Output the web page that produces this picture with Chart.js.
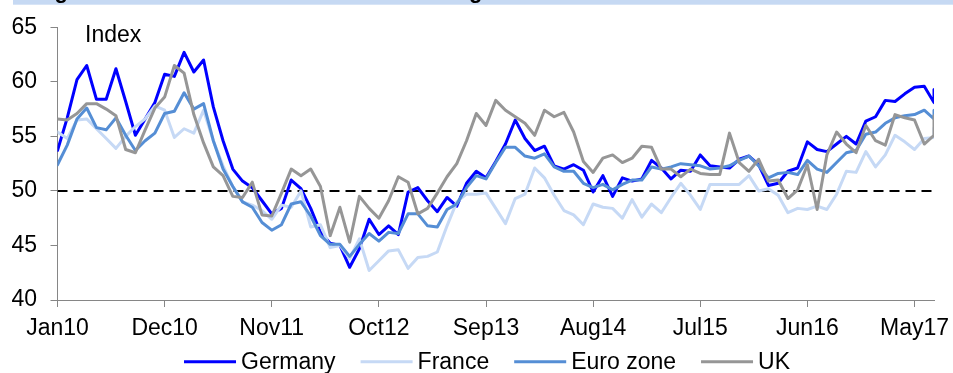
<!DOCTYPE html>
<html>
<head>
<meta charset="utf-8">
<script src="https://cdn.jsdelivr.net/npm/chart.js@4.4.1/dist/chart.umd.min.js"></script>
<style>
  html, body { margin: 0; padding: 0; background: #ffffff; }
  canvas { display: block; }
</style>
</head>
<body>
<canvas id="pmi" width="953" height="373"></canvas>
<script>
// Manufacturing PMI, monthly readings Jan10 - Jul17, plus the Aug17 flash at the right edge
const tickLabels = ['Jan10', 'Dec10', 'Nov11', 'Oct12', 'Sep13', 'Aug14', 'Jul15', 'Jun16', 'May17'];
const tickStep = 11;
const monthPos = Array.from({ length: 91 }, (_, k) => k).concat([90]);

const germany = [
  53.7, 56.7, 60.2, 61.5, 58.4, 58.4, 61.2, 58.2, 55.1, 56.6, 58.1, 60.7,
  60.5, 62.7, 60.9, 62.0, 57.7, 54.6, 52.0, 50.9, 50.3, 49.1, 47.9, 48.4,
  51.0, 50.2, 48.4, 46.2, 45.2, 45.0, 43.0, 44.7, 47.4, 46.0, 46.8, 46.0,
  49.9, 50.3, 49.1, 48.1, 49.4, 48.6, 50.7, 51.8, 51.2, 52.7, 54.3, 56.5,
  54.8, 53.7, 54.1, 52.3, 52.0, 52.4, 51.9, 49.9, 51.4, 49.5, 51.2, 50.9,
  51.1, 52.8, 52.1, 51.1, 51.9, 51.8, 53.3, 52.3, 52.2, 52.1, 52.9, 53.2,
  52.4, 50.5, 50.7, 51.8, 52.1, 54.5, 53.8, 53.6, 54.3, 55.0, 54.3, 56.4,
  56.8, 58.3, 58.2, 58.9, 59.5, 59.6, 58.1,
  59.3
];
const france = [
  55.4, 54.8, 56.5, 56.6, 55.7, 54.8, 53.9, 55.0, 55.9, 56.6, 57.8, 57.4,
  54.9, 55.7, 55.3, 57.4, 54.6, 52.3, 50.4, 49.0, 48.7, 48.2, 47.4, 48.7,
  48.5, 50.0, 46.7, 46.9, 44.8, 45.0, 43.8, 45.6, 42.7, 43.6, 44.5, 44.6,
  42.9, 43.9, 44.0, 44.4, 46.8, 49.0, 49.7, 49.7, 49.8, 48.4, 47.0, 49.3,
  49.7, 52.1, 51.2, 49.6, 48.2, 47.8, 46.9, 48.8, 48.5, 48.4, 47.5, 49.2,
  47.6, 48.8, 48.0, 49.4, 50.7, 49.6, 48.3, 50.6, 50.6, 50.6, 50.6, 51.4,
  50.0, 50.2, 49.6, 48.0, 48.4, 48.3, 48.6, 48.3, 49.7, 51.8, 51.7, 53.6,
  52.2, 53.3, 55.1, 54.5, 53.8, 54.8, 54.9,
  55.8
];
const euroZone = [
  52.4, 54.2, 56.6, 57.6, 55.8, 55.6, 56.7, 55.1, 53.7, 54.6, 55.3, 57.1,
  57.3, 59.0, 57.5, 58.0, 54.6, 52.0, 50.4, 49.0, 48.5, 47.1, 46.4, 46.9,
  48.8, 49.0, 47.7, 45.9, 45.1, 45.1, 44.0, 45.1, 46.1, 45.4, 46.2, 46.1,
  47.9, 47.9, 46.8, 46.7, 48.3, 48.8, 50.3, 51.4, 51.1, 52.6, 54.0, 54.0,
  53.2, 53.0, 53.4, 52.2, 51.8, 51.8, 50.7, 50.3, 50.6, 50.1, 50.6, 51.0,
  51.0, 52.2, 52.0, 52.2, 52.5, 52.4, 52.3, 52.0, 52.1, 52.3, 52.8, 53.2,
  52.3, 51.2, 51.6, 51.7, 51.5, 52.8, 52.0, 51.7, 52.6, 53.5, 53.7, 55.2,
  55.4, 56.2, 56.7, 56.9, 57.0, 57.4, 56.6,
  57.4
];
const uk = [
  56.6, 56.5, 57.1, 58.0, 58.0, 57.5, 56.9, 53.8, 53.5, 55.6, 57.6, 58.6,
  61.5, 60.8, 57.0, 54.4, 52.2, 51.4, 49.5, 49.4, 50.8, 47.8, 47.7, 49.8,
  52.0, 51.4, 52.0, 50.4, 45.9, 48.5, 45.3, 49.5, 48.4, 47.5, 49.1, 51.3,
  50.8, 47.9, 48.4, 49.8, 51.3, 52.5, 54.6, 57.1, 56.0, 58.3, 57.4, 56.8,
  56.2, 55.1, 57.4, 56.8, 57.2, 55.4, 52.7, 51.7, 53.0, 53.3, 52.6, 53.0,
  54.1, 54.0, 52.0, 52.0, 51.3, 52.0, 51.6, 51.5, 51.5, 55.3, 52.6, 51.8,
  52.9, 50.9, 51.0, 49.3, 50.1, 52.4, 48.3, 53.3, 55.4, 54.3, 53.5, 56.0,
  54.6, 54.2, 57.0, 56.7, 56.5, 54.3, 55.1,
  56.9
];
const expansionLine = 50;

const FONT_FAMILY = '"Liberation Sans", Arial, Helvetica, sans-serif';
const FONT_SIZE = 23;
const AXIS_GREY = '#868686';

const toPoints = values => values.map((v, k) => ({ x: monthPos[k], y: v }));

function series(label, values, color, order) {
  return {
    label,
    data: toPoints(values),
    borderColor: color,
    backgroundColor: color,
    borderWidth: 3,
    pointRadius: 0,
    pointHoverRadius: 0,
    tension: 0,
    fill: false,
    borderJoinStyle: 'round',
    borderCapStyle: 'round',
    order,
    inLegend: true
  };
}

const datasets = [
  series('Germany', germany, '#0000ff', 4),
  series('France', france, '#c6d9f5', 3),
  series('Euro zone', euroZone, '#558ed5', 2),
  series('UK', uk, '#969696', 1),
  {
    label: '50',
    data: [{ x: 0, y: expansionLine }, { x: 90, y: expansionLine }],
    borderColor: '#000000',
    borderWidth: 2,
    borderDash: [10, 6],
    pointRadius: 0,
    fill: false,
    order: 10,
    inLegend: false
  }
];

// Cropped heading band, the "Index" unit label and the line legend
const decorations = {
  id: 'decorations',
  beforeDraw(chart) {
    const { ctx } = chart;
    ctx.save();
    ctx.fillStyle = '#c6d9f3';
    ctx.fillRect(13, 0, chart.width - 13, 4.7);
    ctx.fillStyle = '#000000';
    ctx.font = 'bold 22px ' + FONT_FAMILY;
    ctx.textBaseline = 'alphabetic';
    ctx.textAlign = 'left';
    ctx.fillText('Figure 3: Euro zone and UK manufacturing PMIs', 35, -2);
    ctx.restore();
  },
  afterDraw(chart) {
    const { ctx, chartArea } = chart;
    ctx.save();
    ctx.font = FONT_SIZE + 'px ' + FONT_FAMILY;
    ctx.fillStyle = '#000000';
    ctx.textBaseline = 'alphabetic';
    ctx.textAlign = 'left';
    ctx.fillText('Index', chartArea.left + 27.5, 41.5);

    const items = chart.data.datasets.filter(d => d.inLegend);
    const lineLen = 52, textGap = 5, itemGap = 25;
    const widths = items.map(d => lineLen + textGap + ctx.measureText(d.label).width);
    const total = widths.reduce((a, b) => a + b, 0) + itemGap * (items.length - 1);
    let x = 487 - total / 2;
    const lineY = 361.7, textY = 369;
    items.forEach((d, k) => {
      ctx.strokeStyle = d.borderColor;
      ctx.lineWidth = 3;
      ctx.beginPath();
      ctx.moveTo(x, lineY);
      ctx.lineTo(x + lineLen, lineY);
      ctx.stroke();
      ctx.fillStyle = '#000000';
      ctx.fillText(d.label, x + lineLen + textGap, textY);
      x += widths[k] + itemGap;
    });
    ctx.restore();
  }
};

const tickPositions = tickLabels.map((_, k) => k * tickStep);

new Chart(document.getElementById('pmi'), {
  type: 'line',
  data: { datasets },
  options: {
    responsive: false,
    animation: false,
    devicePixelRatio: 1,
    layout: { padding: { top: 24, right: 19, bottom: 0, left: 0 } },
    plugins: {
      legend: { display: false },
      tooltip: { enabled: false },
      title: { display: false }
    },
    scales: {
      x: {
        type: 'linear',
        min: 0,
        max: 90,
        afterBuildTicks: scale => { scale.ticks = tickPositions.map(v => ({ value: v })); },
        afterFit: scale => {
          scale.height = 73;
          scale.paddingLeft = 0;
          scale.paddingRight = 0;
        },
        ticks: {
          autoSkip: false,
          maxRotation: 0,
          padding: 8,
          color: '#000000',
          font: { family: FONT_FAMILY, size: FONT_SIZE },
          callback: v => tickLabels[tickPositions.indexOf(v)]
        },
        grid: { drawOnChartArea: false, drawTicks: true, tickLength: 7, color: AXIS_GREY, lineWidth: 1 },
        border: { display: true, color: AXIS_GREY, width: 1 }
      },
      y: {
        min: 40,
        max: 65,
        afterFit: scale => { scale.width = 57.5; },
        ticks: {
          stepSize: 5,
          padding: 13.5,
          color: '#000000',
          font: { family: FONT_FAMILY, size: FONT_SIZE }
        },
        grid: { drawOnChartArea: false, drawTicks: true, tickLength: 7, color: AXIS_GREY, lineWidth: 1 },
        border: { display: true, color: AXIS_GREY, width: 1 }
      }
    }
  },
  plugins: [decorations]
});
</script>
</body>
</html>
